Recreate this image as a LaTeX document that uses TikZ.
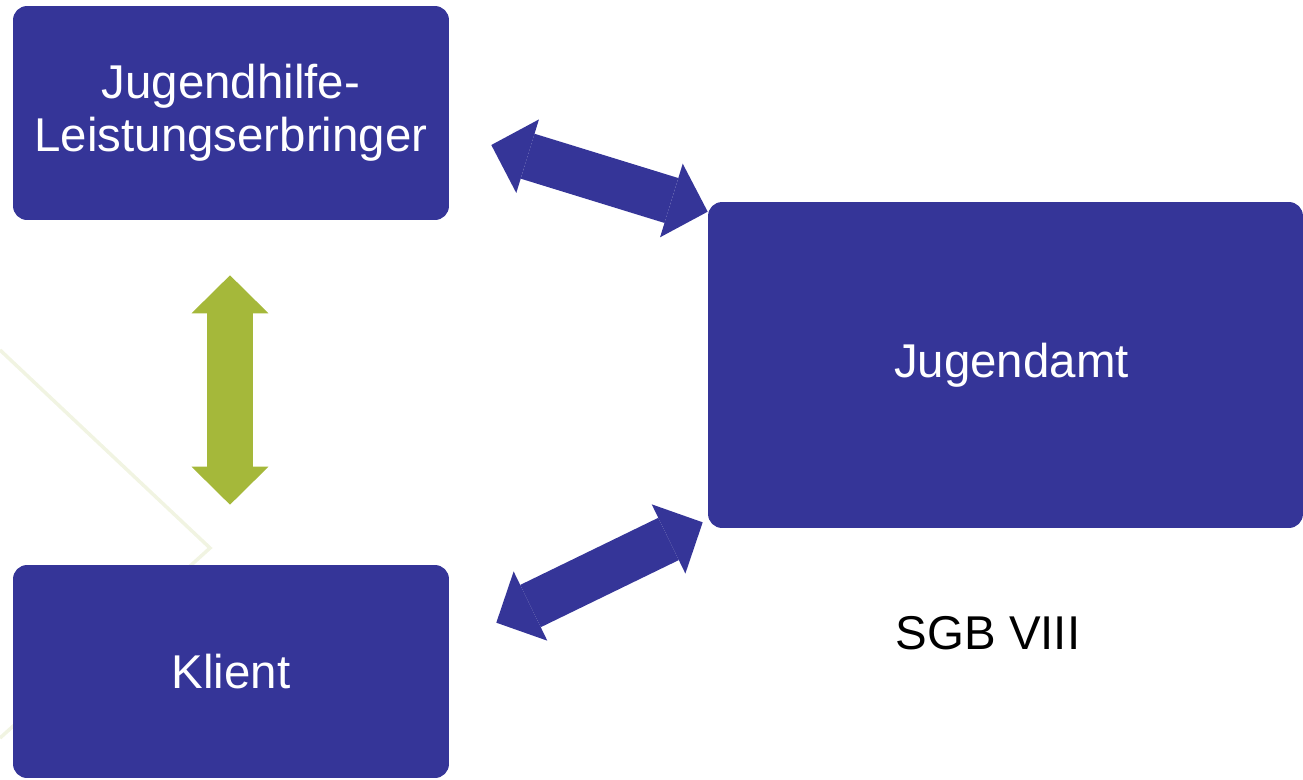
\documentclass[tikz,border=0pt]{standalone}
\usepackage{fontspec}
\setmainfont{Liberation Sans}
\usepackage{tikz}
\usetikzlibrary{arrows.meta,calc}
\definecolor{amtblue}{RGB}{53,53,152}
\definecolor{hilfegreen}{RGB}{165,184,58}
\definecolor{faintgreen}{RGB}{241,244,226}

\begin{document}
\begin{tikzpicture}[x=0.02cm, y=-0.02cm]
                \tikzstyle{partner} = [rectangle, rounded corners=0.28cm, fill=amtblue, text=white, align=center, inner sep=0pt, font=\fontsize{27}{30}\selectfont]
                \tikzstyle{blockarrow} = [line width=0.94cm, <->, >={Triangle[width=1.54cm, length=0.76cm, line width=0pt]}]
                \useasboundingbox (0,0) rectangle (1303,779);
                \draw[faintgreen, line width=0.07cm] (0,350) -- (210,548) -- (0,738);
                \node[partner, minimum width=8.72cm, minimum height=4.28cm] (jle) at (231,113) {Jugendhilfe-\\Leistungserbringer};
                \node[partner, minimum width=8.72cm, minimum height=4.26cm] (klient) at (231,671.5) {Klient};
                \node[partner, minimum width=11.9cm, minimum height=6.52cm] (amt) at (1005.5,365) {\hspace*{0.24cm}Jugendamt};
                \node[font=\fontsize{27}{30}\selectfont] (sgb) at (988,633) {SGB VIII};
                \coordinate (jleout) at ($(jle.east)+(42,32)$);
                \coordinate (amtin) at ($(amt.north west)+(0,10)$);
                \coordinate (amtout) at ($(amt.south west)+(-5,-6)$);
                \coordinate (klientin) at ($(klient.north east)+(47,58)$);
                \draw[blockarrow, amtblue] (jleout) -- (amtin);
                \draw[blockarrow, amtblue] (klientin) -- (amtout);
                \draw[blockarrow, hilfegreen] ($(jle.south)+(-1,55)$) -- ($(klient.north)+(-1,-60)$);
            \end{tikzpicture}
\end{document}
